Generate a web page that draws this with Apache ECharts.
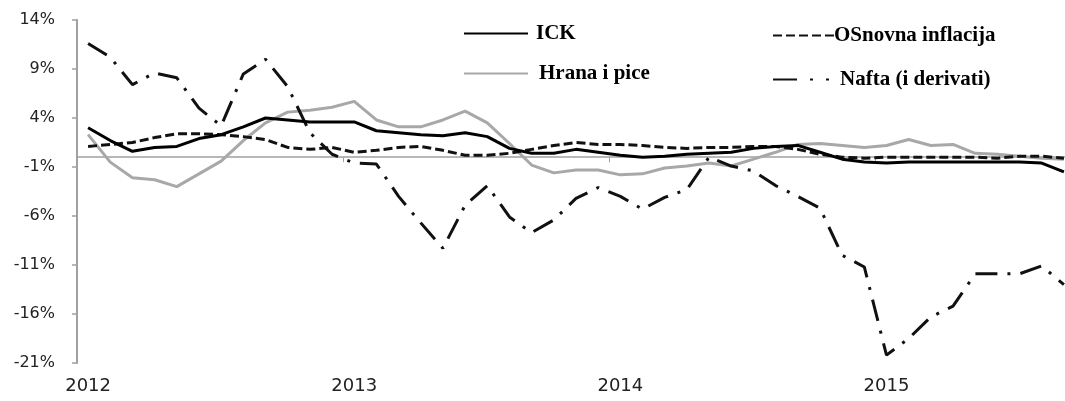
<!DOCTYPE html>
<html>
<head>
<meta charset="utf-8">
<title>Inflacija</title>
<script src="https://cdn.jsdelivr.net/npm/echarts@6/dist/echarts.min.js"></script>
<style>
  html, body { margin: 0; padding: 0; background: #fff; }
  #chart { width: 1065px; height: 401px; }
</style>
</head>
<body>
<div id="chart"></div>
<script>
// mjeseci 2012-01 .. 2015-09
const months = [
  '2012-01','2012-02','2012-03','2012-04','2012-05','2012-06','2012-07','2012-08','2012-09','2012-10','2012-11','2012-12',
  '2013-01','2013-02','2013-03','2013-04','2013-05','2013-06','2013-07','2013-08','2013-09','2013-10','2013-11','2013-12',
  '2014-01','2014-02','2014-03','2014-04','2014-05','2014-06','2014-07','2014-08','2014-09','2014-10','2014-11','2014-12',
  '2015-01','2015-02','2015-03','2015-04','2015-05','2015-06','2015-07','2015-08','2015-09'
];
const yTicks = [-21, -16, -11, -6, -1, 4, 9, 14];

const ick = [
  3.0, 1.7, 0.6, 1.0, 1.1, 1.9, 2.3, 3.1, 4.0, 3.8, 3.6, 3.6,
  3.6, 2.7, 2.5, 2.3, 2.2, 2.5, 2.1, 0.9, 0.4, 0.4, 0.8, 0.5,
  0.2, 0.0, 0.1, 0.3, 0.4, 0.5, 0.9, 1.1, 1.2, 0.5, -0.2, -0.5,
  -0.6, -0.5, -0.5, -0.5, -0.5, -0.5, -0.5, -0.6, -1.5
];
const osnovna = [
  1.1, 1.3, 1.5, 2.0, 2.4, 2.4, 2.3, 2.1, 1.8, 1.0, 0.8, 1.0,
  0.5, 0.7, 1.0, 1.1, 0.7, 0.2, 0.2, 0.4, 0.8, 1.2, 1.5, 1.3,
  1.3, 1.2, 1.0, 0.9, 1.0, 1.0, 1.1, 1.1, 0.8, 0.3, 0.0, -0.1,
  0.0, 0.0, 0.0, 0.0, 0.0, -0.1, 0.1, 0.1, -0.1
];
const hrana = [
  2.3, -0.5, -2.1, -2.3, -3.0, -1.7, -0.4, 1.7, 3.5, 4.6, 4.8, 5.1,
  5.7, 3.8, 3.1, 3.1, 3.8, 4.7, 3.5, 1.4, -0.8, -1.6, -1.3, -1.3,
  -1.8, -1.7, -1.1, -0.9, -0.6, -0.9, -0.2, 0.5, 1.3, 1.4, 1.2, 1.0,
  1.2, 1.8, 1.2, 1.3, 0.4, 0.3, 0.1, -0.1, -0.2
];
const nafta = [
  11.6, 10.2, 7.4, 8.6, 8.1, 5.0, 3.2, 8.5, 10.0, 7.2, 2.5, 0.3,
  -0.6, -0.7, -4.0, -6.7, -9.3, -4.9, -2.9, -6.1, -7.7, -6.4, -4.2, -3.1,
  -4.0, -5.3, -4.1, -3.3, 0.0, -0.9, -1.4, -2.9, -4.0, -5.2, -10.0, -11.2,
  -20.2, -18.5, -16.3, -15.2, -11.9, -11.9, -11.9, -11.1, -13.0
];

const axisGray = '#a0a0a0';
const legendFont = { fontFamily: 'Liberation Serif', fontWeight: 'bold', fontSize: 21, color: '#000' };

let myChart = echarts.init(document.getElementById('chart'));
myChart.setOption({
  animation: false,
  grid: { left: 77, right: -10, top: 20, bottom: 38, outerBoundsMode: 'none' },
  legend: [
    {
      orient: 'vertical',
      left: 458, top: 18,
      itemWidth: 64, itemHeight: 14, itemGap: 19,
      itemStyle: { opacity: 0 },
      textStyle: Object.assign({ padding: [0, 0, 0, 3] }, legendFont),
      data: ['ICK', { name: 'Hrana i pice', textStyle: { padding: [0, 0, 0, 6] } }]
    },
    {
      orient: 'vertical',
      left: 767, top: 20,
      itemWidth: 64, itemHeight: 14, itemGap: 23,
      itemStyle: { opacity: 0 },
      textStyle: legendFont,
      data: [
        { name: 'OSnovna inflacija', textStyle: { padding: [0, 0, 0, -8] } },
        { name: 'Nafta (i derivati)', textStyle: { padding: [0, 0, 0, -2] },
          lineStyle: { type: [24, 13, 3, 13, 3, 20] } }
      ]
    }
  ],
  xAxis: [
    {
      type: 'category',
      data: months,
      position: 'bottom',
      boundaryGap: true,
      axisLine: { onZero: true, lineStyle: { color: axisGray, width: 1.5 } },
      axisTick: { show: true, interval: 11, length: 5, lineStyle: { color: axisGray } },
      axisLabel: { show: false },
      splitLine: { show: false }
    },
    {
      type: 'category',
      data: months,
      position: 'bottom',
      boundaryGap: true,
      axisLine: { show: false, onZero: false },
      axisTick: { show: false },
      axisLabel: {
        interval: 11, margin: 14,
        fontFamily: 'DejaVu Sans', fontSize: 18, color: '#222',
        formatter: v => v.slice(0, 4)
      },
      splitLine: { show: false }
    }
  ],
  yAxis: {
    type: 'value',
    min: -21, max: 14,
    axisLine: { show: true, lineStyle: { color: axisGray, width: 2 } },
    axisTick: { show: true, length: 5, customValues: yTicks, lineStyle: { color: axisGray, width: 1.5 } },
    axisLabel: {
      customValues: yTicks, margin: 22,
      fontFamily: 'DejaVu Sans', fontSize: 16, color: '#222',
      formatter: v => v + '%'
    },
    splitLine: { show: false }
  },
  series: [
    {
      name: 'Hrana i pice', type: 'line', data: hrana, symbol: 'none', color: '#a8a8a8',
      lineStyle: { width: 3 }, z: 2
    },
    {
      name: 'Nafta (i derivati)', type: 'line', data: nafta, symbol: 'none', color: '#111',
      lineStyle: { width: 3, type: [22, 10, 3, 10] }, z: 3
    },
    {
      name: 'OSnovna inflacija', type: 'line', data: osnovna, symbol: 'none', color: '#111',
      lineStyle: { width: 3, type: [9, 4] }, z: 4
    },
    {
      name: 'ICK', type: 'line', data: ick, symbol: 'none', color: '#000',
      lineStyle: { width: 3 }, z: 5
    }
  ]
});
</script>
</body>
</html>
